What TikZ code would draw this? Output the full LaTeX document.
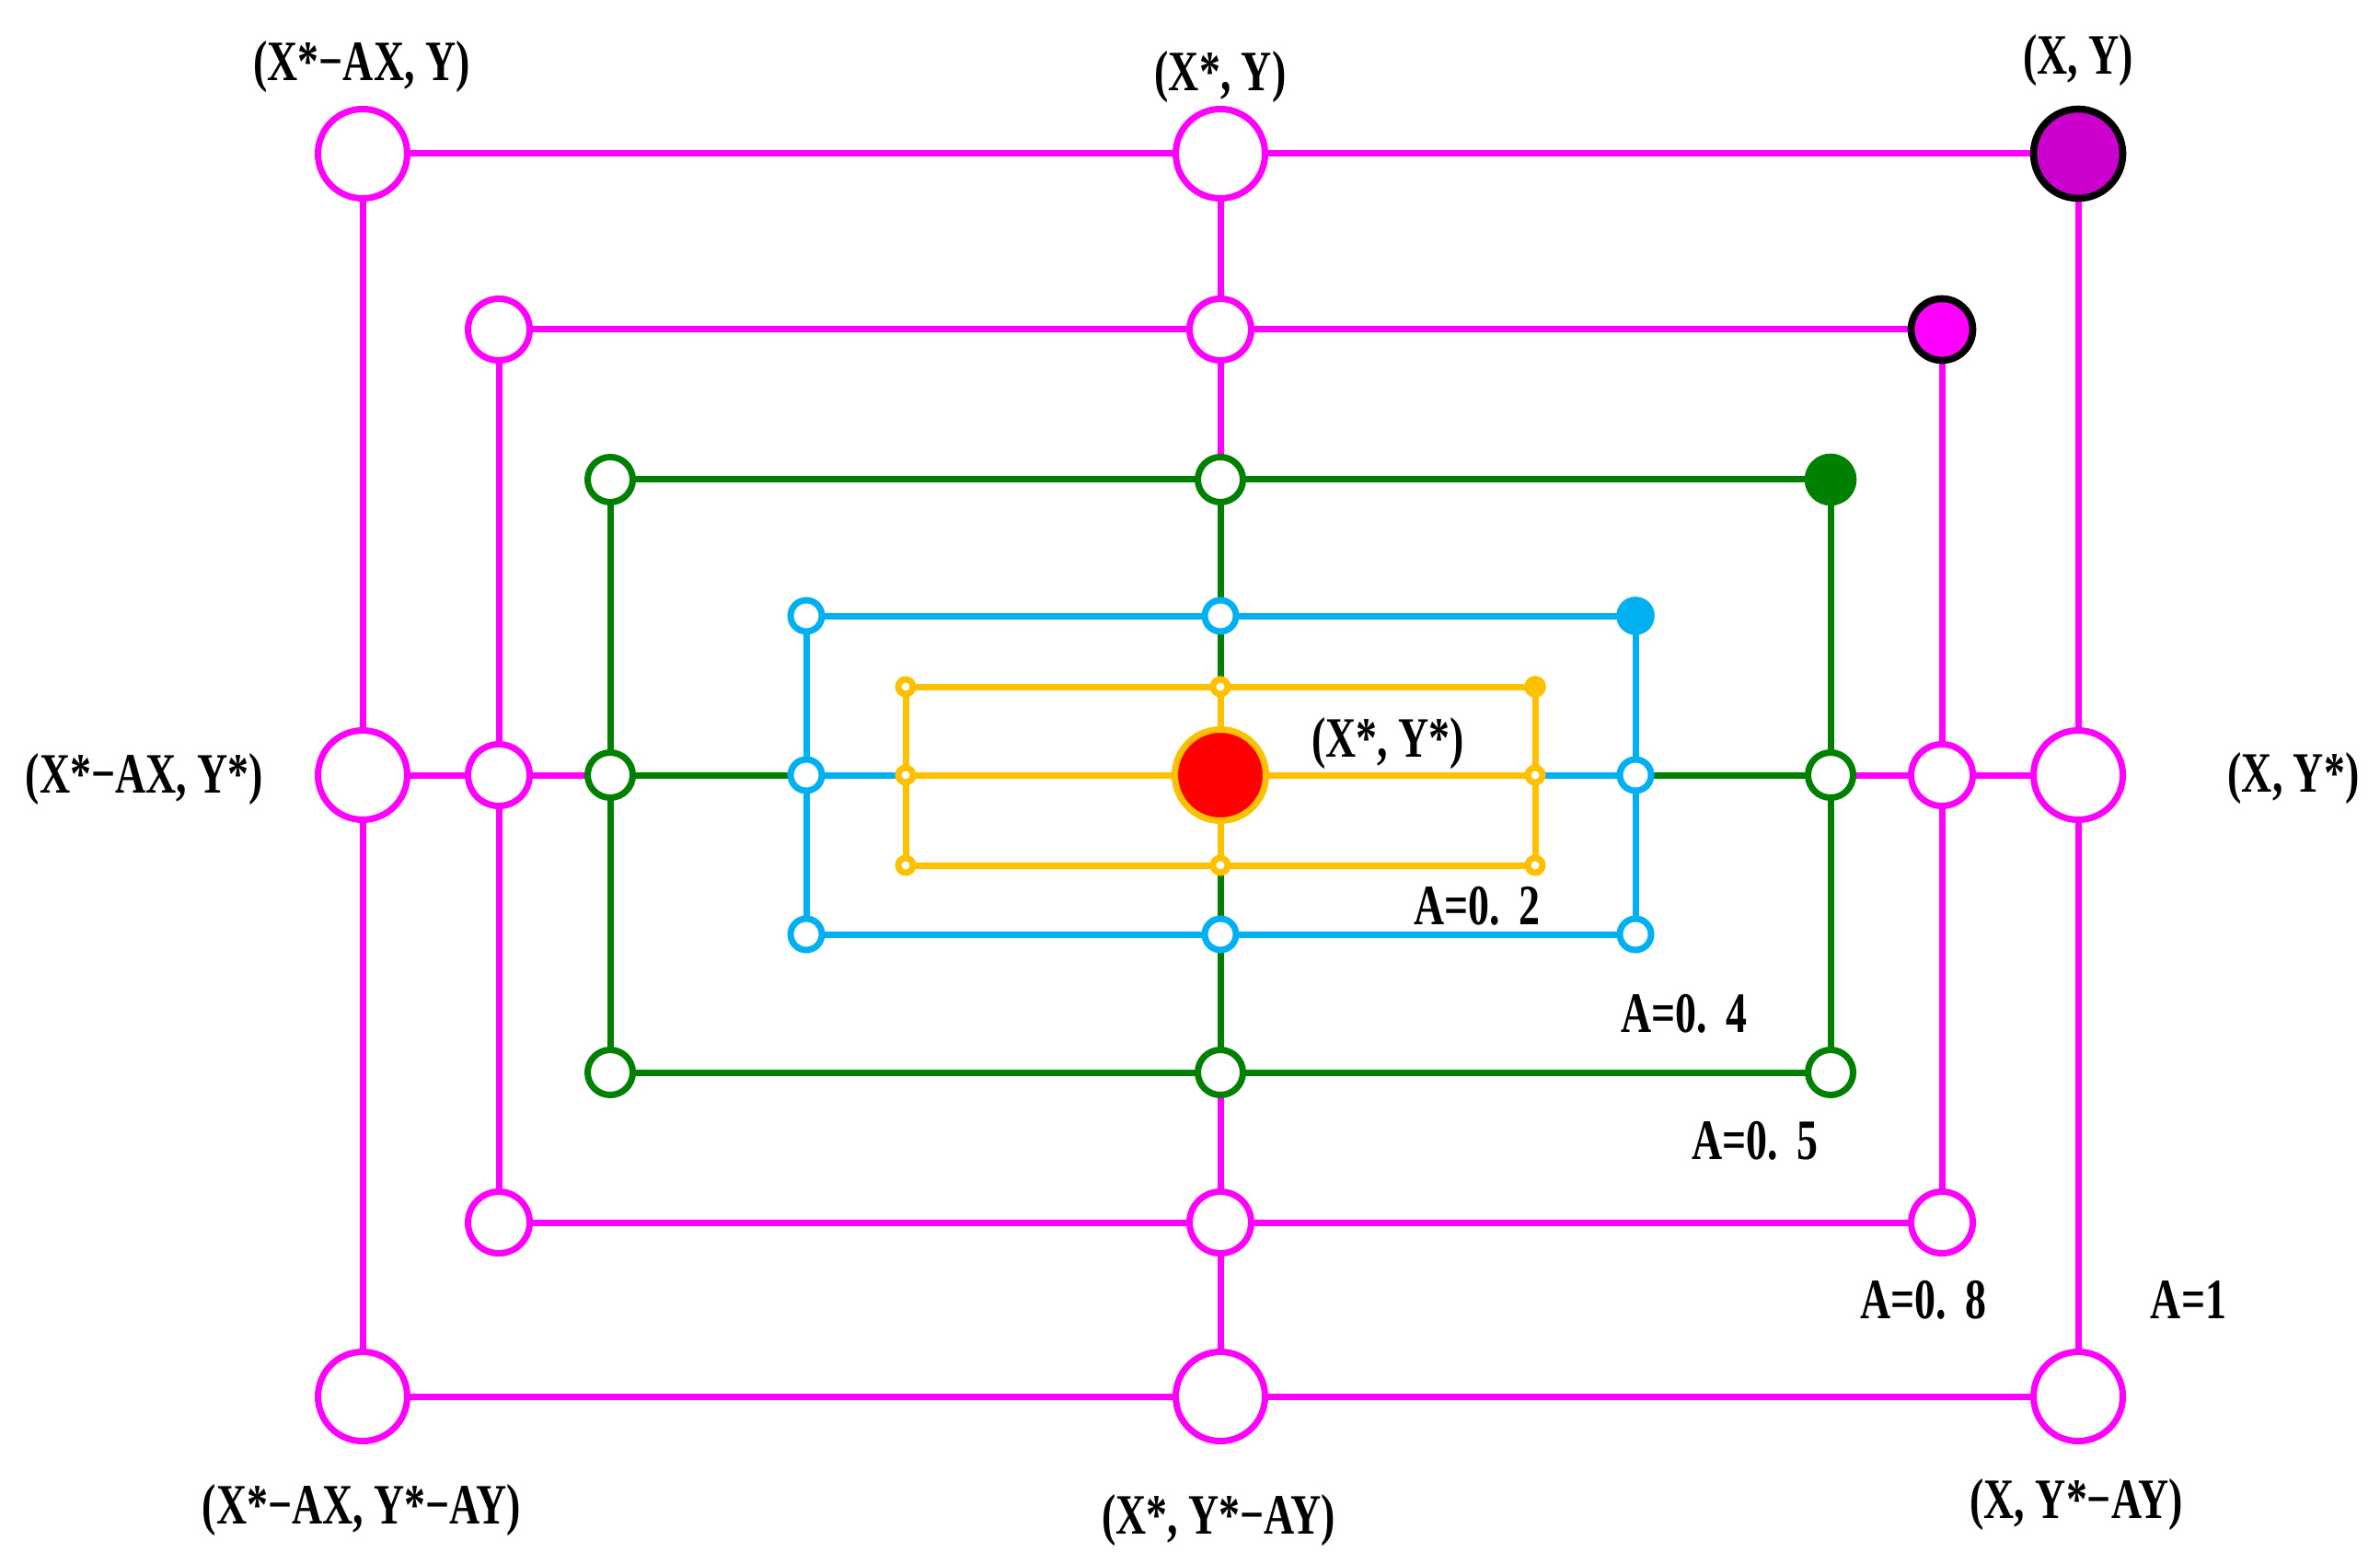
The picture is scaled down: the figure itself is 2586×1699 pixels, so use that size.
\documentclass[tikz,border=0pt]{standalone}
\usepackage{fontspec}
\newfontfamily\lab{Liberation Serif}[FakeStretch=0.74]
\usetikzlibrary{backgrounds}
\definecolor{mag}{HTML}{FF00FF}
\definecolor{dmag}{HTML}{CC00CC}
\definecolor{grn}{HTML}{008000}
\definecolor{sky}{HTML}{00B0F0}
\definecolor{gold}{HTML}{FFC000}
\definecolor{rd}{HTML}{FF0000}
\newcommand{\dgap}{\hspace{0.33em}}
\begin{document}
\begin{tikzpicture}[x=0.25pt,y=-0.25pt,
  lbl/.style={anchor=base, inner sep=0, outer sep=0, font=\lab\bfseries\fontsize{15.5}{18}\selectfont},
  dot/.style={circle, inner sep=0, outer sep=0, line width=1.75pt, fill=white},
  conn/.style={line width=1.75pt}]
\useasboundingbox (0,0) rectangle (2586,1699);
% centre point
\node[dot, draw=gold, fill=rd, minimum size=24.75pt] (c) at (1326,842) {};
% the five rectangles of points
\foreach \n/\col/\l/\r/\t/\b/\d/\tf/\td/\mid in {
  o/mag/394/2258/167/1517/24.25pt/dmag/black/1,
  e/mag/542/2110/358/1328/16.75pt/mag/black/1,
  g/grn/663/1989/521/1165/12.25pt/grn/grn/1,
  b/sky/876/1777/669/1015/8.5pt/sky/sky/0,
  y/gold/984/1668/746/940/4pt/gold/gold/1}{
  \node[dot, draw=\col, minimum size=\d] (\n-tl) at (\l,\t) {};
  \node[dot, draw=\col, minimum size=\d] (\n-tm) at (1326,\t) {};
  \node[dot, draw=\td, fill=\tf, minimum size=\d, line width=1.9pt] (\n-tr) at (\r,\t) {};
  \node[dot, draw=\col, minimum size=\d] (\n-ml) at (\l,842) {};
  \node[dot, draw=\col, minimum size=\d] (\n-mr) at (\r,842) {};
  \node[dot, draw=\col, minimum size=\d] (\n-bl) at (\l,\b) {};
  \node[dot, draw=\col, minimum size=\d] (\n-bm) at (1326,\b) {};
  \node[dot, draw=\col, minimum size=\d] (\n-br) at (\r,\b) {};
  \begin{scope}[on background layer]
    \draw[conn, \col] (\n-tl) -- (\n-tr);
    \draw[conn, \col] (\n-ml) -- (\n-mr);
    \draw[conn, \col] (\n-bl) -- (\n-br);
    \draw[conn, \col] (\n-tl) -- (\n-bl);
    \draw[conn, \col] (\n-tr) -- (\n-br);
    \ifnum\mid=1
      \draw[conn, \col] (\n-tm) -- (\n-bm);
    \fi
  \end{scope}
}
% labels
\node[lbl] (l1) at (393,87.5) {(X*−AX, Y)};
\node[lbl] (l2) at (1326,98.5) {(X*, Y)};
\node[lbl] (l3) at (2258,80.5) {(X, Y)};
\node[lbl] (l4) at (157,861.5) {(X*−AX, Y*)};
\node[lbl] (l5) at (2492,860.5) {(X, Y*)};
\node[lbl] (l6) at (1508,822.5) {(X*, Y*)};
\node[lbl] (l7) at (1605,1004.5) {A=0.\dgap 2};
\node[lbl] (l8) at (1830,1121.5) {A=0.\dgap 4};
\node[lbl] (l9) at (1907,1259.5) {A=0.\dgap 5};
\node[lbl] (l10) at (2090,1432.5) {A=0.\dgap 8};
\node[lbl] (l11) at (2378,1432.5) {A=1};
\node[lbl] (l12) at (393,1655.5) {(X*−AX, Y*−AY)};
\node[lbl] (l13) at (1324,1666.5) {(X*, Y*−AY)};
\node[lbl] (l14) at (2256,1649.5) {(X, Y*−AY)};
\end{tikzpicture}
\end{document}
